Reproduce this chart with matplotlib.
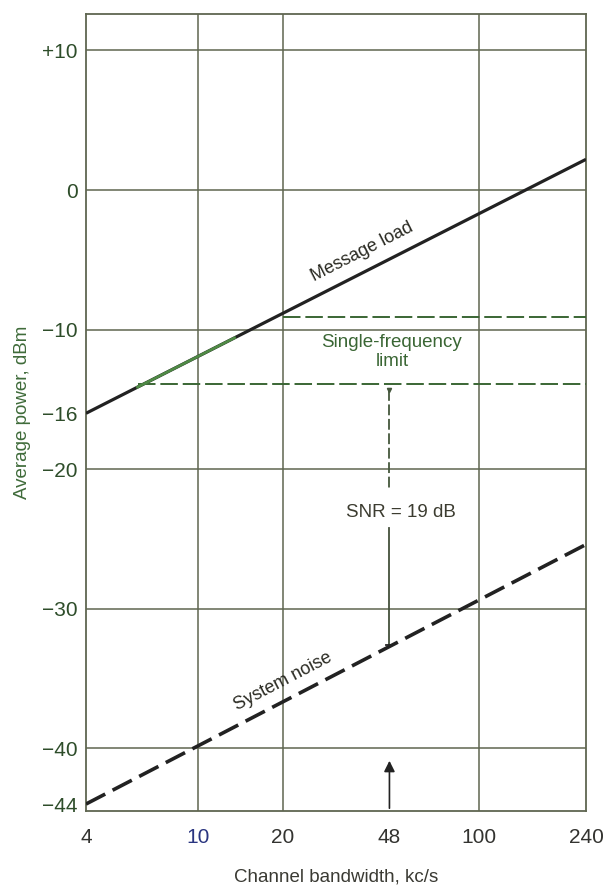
import matplotlib
matplotlib.use("Agg")
import matplotlib.pyplot as plt
import numpy as np

# data
bandwidth = [4, 240]
message_load = [-16.0, 2.2]
system_noise = [-44.0, -25.4]

sf_upper_x = [20, 240]
sf_upper_y = [-9.1, -9.1]
sf_lower_x = [6.1, 240]
sf_lower_y = [-13.9, -13.9]
green_seg_x = [6.1, 13.5]

snr_x = 48
snr_top = -13.9
snr_bottom = -32.6
arrow_tip = -40.7

x_ticks = [4, 10, 20, 48, 100, 240]
x_grid = [10, 20, 100]
y_ticks = [10, 0, -10, -16, -20, -30, -40, -44]
y_tick_labels = ["+10", "0", "\u221210", "\u221216", "\u221220", "\u221230", "\u221240", "\u221244"]
y_grid = [10, 0, -10, -20, -30, -40]

plt.rcParams["font.family"] = ["Liberation Sans", "DejaVu Sans"]

grid_col = "#5f6650"
green = "#3a6634"
dark = "#222222"

fig = plt.figure(figsize=(6.12, 8.88), dpi=100)
ax = fig.add_axes([0.1405, 0.0867, 0.817, 0.8973])
ax.set_xscale("log")
ax.set_xlim(4, 240)
ax.set_ylim(-44.5, 12.6)

for g in x_grid:
    ax.axvline(g, color=grid_col, lw=1.1, zorder=1)
for g in y_grid:
    ax.axhline(g, color=grid_col, lw=1.1, zorder=1)
for s in ax.spines.values():
    s.set_color(grid_col)
    s.set_linewidth(1.3)

# message load
ax.plot(bandwidth, message_load, color=dark, lw=2.3, solid_capstyle="butt", zorder=3)
seg_y = np.interp(np.log10(green_seg_x), np.log10(bandwidth), message_load)
ax.plot(green_seg_x, seg_y, color="#4f8a45", lw=2.0, zorder=4)

# system noise
ax.plot(bandwidth, system_noise, color=dark, lw=2.6, dashes=(6, 2.3), zorder=3)

# single-frequency limit
ax.plot(sf_upper_x, sf_upper_y, color=green, lw=1.4, dashes=(9, 2.5), zorder=3)
ax.plot(sf_lower_x, sf_lower_y, color=green, lw=1.4, dashes=(9, 2.5), zorder=3)

# SNR dimension line
ax.plot([snr_x, snr_x], [snr_top - 0.4, -21.5], color="#44573c", lw=1.3, dashes=(6, 2), zorder=3)
ax.plot([snr_x, snr_x], [-24.2, snr_bottom], color="#44503c", lw=1.3, zorder=3)
ax.plot([snr_x], [snr_top - 0.4], marker="v", color="#44573c", ms=3, zorder=3)
ax.plot([snr_x * 0.97, snr_x * 1.03], [snr_bottom, snr_bottom], color=dark, lw=1.3, zorder=3)

# arrow from bottom
ax.annotate("", xy=(snr_x, arrow_tip), xytext=(snr_x, -44.5),
            arrowprops=dict(arrowstyle="-|>", color=dark, lw=1.2, mutation_scale=16),
            zorder=3)

ax.text(38.3, -4.4, "Message load", rotation=27, ha="center", va="center",
        fontsize=13, color="#2a2a22", zorder=5)
ax.text(20.1, -35.2, "System noise", rotation=27.5, ha="center", va="center",
        fontsize=13, color="#2a2a22", zorder=5)
ax.text(49, -11.6, "Single-frequency\nlimit", ha="center", va="center",
        fontsize=13.5, color=green, linespacing=1.1, zorder=5)
ax.text(52.7, -23.1, "SNR = 19 dB", ha="center", va="center",
        fontsize=13.5, color="#3c3c30", zorder=5,
        bbox=dict(facecolor="white", edgecolor="none", pad=0.5))

ax.set_xticks(x_ticks)
ax.set_xticklabels([str(t) for t in x_ticks])
ax.xaxis.set_minor_locator(matplotlib.ticker.NullLocator())
ax.set_yticks(y_ticks)
ax.set_yticklabels(y_tick_labels)
ax.tick_params(axis="both", length=0, labelsize=15)
ax.tick_params(axis="x", pad=12, colors="#333330")
ax.tick_params(axis="y", pad=6, colors="#2e4d2a")
ax.get_xticklabels()[1].set_color("#2a3580")

ax.set_xlabel("Channel bandwidth, kc/s", fontsize=13.5, color="#3a3a33", labelpad=16)
ax.set_ylabel("Average power, dBm", fontsize=13.5, color="#3f6b3a", labelpad=8)

fig.savefig("out.png", dpi=100)
